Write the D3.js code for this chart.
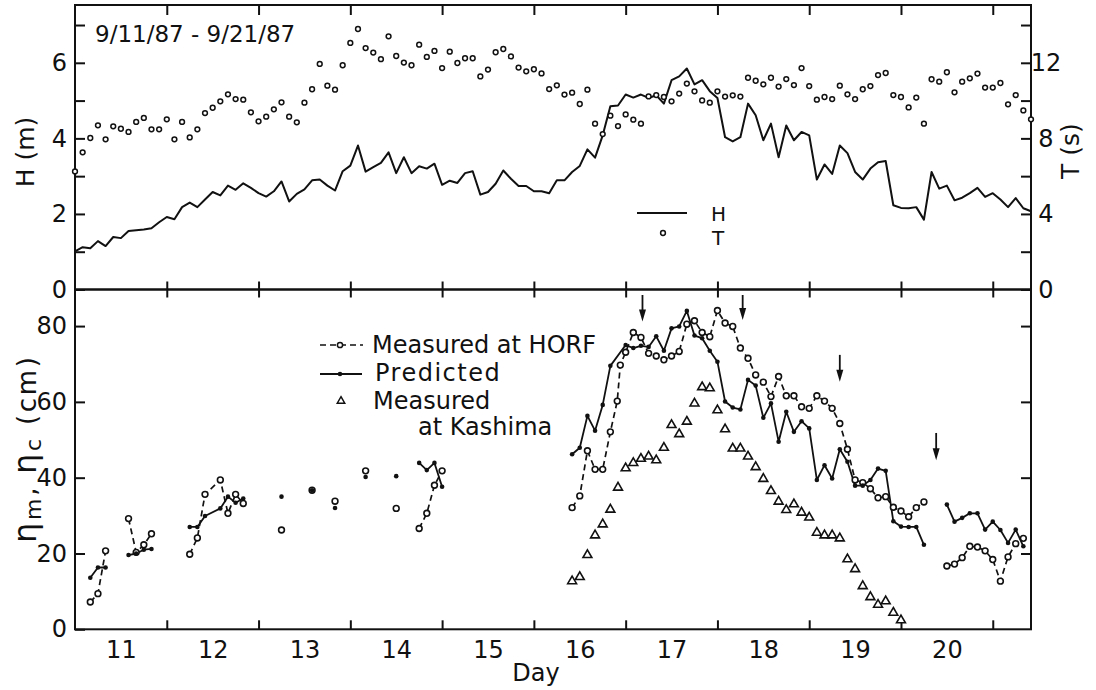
<!DOCTYPE html>
<html>
<head>
<meta charset="utf-8">
<script src="https://cdn.jsdelivr.net/npm/d3@7"></script>
<style>
  html, body { margin: 0; padding: 0; background: #fff; }
  svg { display: block; font-family: "DejaVu Sans", sans-serif; }
</style>
</head>
<body>
<svg id="chart" width="1096" height="690"></svg>
<script>
// ---- Data: storm of 9/11/87 - 9/21/87, hours counted from 0:00 on the 11th ----
const hourStep = 2;

// Significant wave height H (m), every 2 h from hour 0
const waveHeight = [
  1.01,1.12,1.09,1.28,1.15,1.39,1.36,1.55,1.57,1.59,
  1.62,1.78,1.92,1.86,2.18,2.30,2.18,2.38,2.58,2.49,
  2.75,2.64,2.81,2.69,2.55,2.46,2.60,2.86,2.33,2.53,
  2.65,2.89,2.91,2.75,2.62,3.13,3.28,3.81,3.12,3.24,
  3.35,3.63,3.08,3.50,3.08,3.26,3.20,3.33,2.77,2.88,
  2.82,3.08,3.13,2.51,2.58,2.80,3.15,2.93,2.74,2.74,
  2.60,2.60,2.55,2.89,2.89,3.11,3.27,3.71,3.49,4.08,
  4.85,4.87,5.16,5.08,5.16,5.07,5.14,4.92,5.54,5.64,
  5.85,5.43,5.54,5.25,5.07,4.03,3.92,4.03,4.92,4.61,
  3.95,4.39,3.50,4.34,3.95,4.17,4.08,2.91,3.31,3.06,
  3.81,3.61,3.11,2.91,3.20,3.37,3.40,2.23,2.16,2.15,
  2.18,1.85,3.11,2.67,2.75,2.36,2.43,2.55,2.69,2.45,
  2.55,2.38,2.18,2.42,2.15,2.07
];

// Significant wave period T (s), every 2 h from hour 0
const wavePeriod = [
  6.25,7.26,8.02,8.69,7.95,8.64,8.51,8.34,8.87,9.08,
  8.48,8.48,9.01,7.95,8.87,8.05,8.48,9.34,9.62,9.96,
  10.33,10.08,10.05,9.38,8.90,9.15,9.54,9.91,9.15,8.85,
  9.89,10.60,11.94,10.79,10.58,11.87,13.05,13.79,12.78,12.54,
  12.19,13.40,12.36,12.01,11.87,12.96,12.31,12.63,11.72,12.59,
  11.99,12.24,12.24,11.28,11.64,12.56,12.73,12.34,11.75,11.55,
  11.66,11.44,10.61,10.81,10.32,10.42,9.82,10.58,8.78,8.23,
  9.20,8.65,9.27,8.99,8.78,10.22,10.29,10.19,9.96,10.37,
  10.90,10.49,10.01,9.89,10.49,10.21,10.28,10.21,11.21,11.05,
  10.86,11.21,10.74,11.14,10.82,11.72,10.77,10.05,10.19,10.08,
  10.79,10.33,10.08,10.60,10.77,11.35,11.46,10.29,10.19,9.64,
  10.16,8.78,11.13,11.00,11.50,10.44,11.00,11.18,11.43,10.69,
  10.69,10.93,9.80,10.29,9.48,9.01
];

// Set-up eta (cm) measured at HORF: [hour, value]; null breaks the line
const horfMeasured = [
  [4,7.2],[6,9.4],[8,20.7], null,
  [14,29.2],[16,20.3],[18,22.3],[20,25.2], null,
  [30,19.8],[32,24.1],[34,35.6],[38,39.4],[40,30.6],[42,35.6],[44,33.2], null,
  [54,26.2], null, [62,36.7], null, [68,33.8], null, [76,41.8], null, [84,31.9], null,
  [90,26.6],[92,30.6],[94,38.0],[96,41.8], null,
  [130,32.1],[132,35.2],[134,47.1],[136,42.2],[138,42.2],[140,52.1],[141.8,60.2],[142.6,69.7],
  [144,73.1],[146,78.3],[148,77.0],[150,72.8],[152,72.1],[154,71.1],[156,72.1],[158,73.3],
  [160,80.5],[162,81.4],[164,78.3],[166,77.2],[168,84.1],[170,80.8],[172,79.9],[174,74.2],
  [176,71.5],[178,67.1],[180,65.2],[182,61.4],[184,66.7],[186,61.6],[188,61.6],[190,58.7],
  [192,58.3],[194,61.6],[196,60.2],[198,58.3],[200,54.3],[202,47.5],[204,39.4],[206,38.7],
  [208,37.1],[210,34.7],[212,35.0],[214,32.2],[216,31.2],[218,29.7],[220,32.1],[222,33.6], null,
  [228,16.7],[230,17.2],[232,18.9],[234,21.9],[236,21.7],[238,20.7],[240,18.4],[242,12.7],
  [244,19.1],[246,22.6],[248,24.0]
];

// Predicted set-up eta (cm)
const predicted = [
  [4,13.6],[6,16.3],[8,16.3], null,
  [14,19.6],[16,20.0],[18,21.0],[20,21.2], null,
  [30,27.0],[32,27.0],[34,29.9],[38,31.9],[40,35.0],[42,33.4],[44,34.5], null,
  [54,35.0], null, [62,36.7], null, [68,32.0], null, [76,40.2], null, [84,40.4], null,
  [90,43.9],[92,42.0],[94,43.9],[96,37.6], null,
  [130,46.2],[132,47.9],[134,56.3],[136,52.4],[138,59.2],[140,69.5],[144,75.0],[146,74.2],
  [148,74.8],[150,74.5],[152,77.3],[154,73.5],[156,79.4],[158,79.9],[160,84.0],[162,77.5],
  [164,76.8],[166,73.5],[168,70.6],[170,60.1],[172,58.5],[174,58.0],[176,65.8],[178,64.3],
  [180,55.8],[182,59.6],[184,49.5],[186,57.4],[188,52.1],[190,54.9],[192,53.0],[194,39.4],
  [196,43.3],[198,39.8],[200,47.5],[202,44.2],[204,37.9],[206,37.9],[208,39.4],[210,42.4],
  [212,41.8],[214,28.5],[216,27.1],[218,27.0],[220,27.0],[222,22.3], null,
  [228,32.9],[230,28.4],[232,29.4],[234,30.6],[236,30.6],[238,26.3],[240,28.4],[242,26.2],
  [244,22.8],[246,26.3],[248,21.9]
];

// Set-up measured at Kashima (cm)
const kashima = [
  [130,12.7],[132,13.8],[134,19.6],[136,24.8],[138,27.7],[140,31.6],[142,37.4],[144,42.5],
  [146,43.9],[148,45.0],[150,45.6],[152,44.6],[154,47.9],[156,53.9],[158,51.5],[160,54.8],
  [162,59.6],[164,63.9],[166,63.6],[168,57.8],[170,52.8],[172,47.7],[174,47.7],[176,45.6],
  [178,42.8],[180,39.7],[182,36.5],[184,33.7],[186,31.5],[188,33.0],[190,30.8],[192,29.5],
  [194,25.5],[196,24.8],[198,24.8],[200,24.0],[202,18.5],[204,15.9],[206,11.4],[208,8.5],
  [210,6.5],[212,7.4],[214,4.4],[216,2.4]
];

// Event arrows: hour, start and tip level (cm)
const arrowHours = [148.4, 174.6, 200.0, 225.2];
const arrowFrom  = [88.2, 88.2, 72.4, 51.8];
const arrowTo    = [81.2, 81.6, 65.3, 44.6];

// Axis ticks and labels
const dayLabels = ["11","12","13","14","15","16","17","18","19","20"];
const dayMidHours = [12,36,60,84,108,132,156,180,204,228];
const dayBoundHours = [24,48,72,96,120,144,168,192,216,240];
const hTicks = [0,1,2,3,4,5,6,7];
const hLabels = [0,2,4,6];
const tTicks = [0,2,4,6,8,10,12,14];
const tLabels = [0,4,8,12];
const etaTicks = [0,20,40,60,80];

// ---- Layout ----
const svg = d3.select("#chart");
const ink = "#111";
const L = 75, R = 1031, TOP = 5, MID = 289.5, BOT = 629.3;

const x = d3.scaleLinear().domain([0, 250]).range([L, R]);
const yH = d3.scaleLinear().domain([0, 7.53]).range([MID, TOP]);
const yT = d3.scaleLinear().domain([0, 15.06]).range([MID, TOP]);
const yE = d3.scaleLinear().domain([0, 89.65]).range([BOT, MID]);

const fontSize = 24;

function styleAxis(g) {
  g.select(".domain").remove();
  g.selectAll(".tick line").attr("stroke", ink).attr("stroke-width", 2);
  g.selectAll(".tick text").attr("fill", ink).style("font-size", fontSize + "px")
    .style("font-family", "DejaVu Sans, sans-serif");
}

// frames
svg.append("rect").attr("x", L).attr("y", TOP).attr("width", R - L).attr("height", MID - TOP)
  .attr("fill", "none").attr("stroke", ink).attr("stroke-width", 2);
svg.append("rect").attr("x", L).attr("y", MID).attr("width", R - L).attr("height", BOT - MID)
  .attr("fill", "none").attr("stroke", ink).attr("stroke-width", 2);

// x ticks on top edge, divider and bottom edge
svg.append("g").attr("transform", `translate(0,${TOP})`)
  .call(d3.axisTop(x).tickValues(dayBoundHours).tickSize(-10).tickFormat(""))
  .call(styleAxis);
svg.append("g").attr("transform", `translate(0,${MID})`)
  .call(d3.axisTop(x).tickValues(dayBoundHours).tickSize(8).tickFormat(""))
  .call(styleAxis);
svg.append("g").attr("transform", `translate(0,${MID})`)
  .call(d3.axisBottom(x).tickValues(dayBoundHours).tickSize(8).tickFormat(""))
  .call(styleAxis);
svg.append("g").attr("transform", `translate(0,${BOT})`)
  .call(d3.axisBottom(x).tickValues(dayBoundHours).tickSize(-9).tickFormat(""))
  .call(styleAxis);
svg.append("g").attr("transform", `translate(0,${BOT})`)
  .call(d3.axisBottom(x).tickValues(dayMidHours).tickSize(0).tickPadding(12)
    .tickFormat((d, i) => dayLabels[i]))
  .call(styleAxis);

// H axis (left, top panel)
svg.append("g").attr("transform", `translate(${L},0)`)
  .call(d3.axisLeft(yH).tickValues(hTicks).tickSize(-10).tickPadding(8)
    .tickFormat(d => hLabels.includes(d) ? d : ""))
  .call(styleAxis);
// T axis (right, top panel)
const tAxis = svg.append("g").attr("transform", `translate(${R},0)`)
  .call(d3.axisRight(yT).tickValues(tTicks).tickSize(-10)
    .tickFormat(d => tLabels.includes(d) ? d : ""))
  .call(styleAxis);
tAxis.selectAll(".tick text").attr("x", 15).attr("text-anchor", "middle");

// eta axes (bottom panel)
svg.append("g").attr("transform", `translate(${L},0)`)
  .call(d3.axisLeft(yE).tickValues(etaTicks).tickSize(-10).tickPadding(8))
  .call(styleAxis);
svg.append("g").attr("transform", `translate(${R},0)`)
  .call(d3.axisRight(yE).tickValues(etaTicks.filter(v => v > 0)).tickSize(-10).tickFormat(""))
  .call(styleAxis);

// axis titles
svg.append("text").attr("transform", "translate(34,152) rotate(-90)")
  .attr("text-anchor", "middle").attr("fill", ink).style("font-size", "25px").text("H (m)");
svg.append("text").attr("transform", "translate(1079,151) rotate(-90)")
  .attr("text-anchor", "middle").attr("fill", ink).style("font-size", "25px").text("T (s)");
svg.append("text").attr("x", 536).attr("y", 681).attr("text-anchor", "middle")
  .attr("fill", ink).style("font-size", "24px").text("Day");

const etaLabel = svg.append("text").attr("transform", "translate(36,450) rotate(-90)")
  .attr("text-anchor", "middle").attr("fill", ink).style("font-size", "26px")
  .attr("textLength", 186).attr("lengthAdjust", "spacing");
etaLabel.append("tspan").style("font-size", "32px").text("η");
etaLabel.append("tspan").style("font-size", "22px").attr("dy", 5).text("m");
etaLabel.append("tspan").attr("dy", -5).text(", ");
etaLabel.append("tspan").style("font-size", "32px").text("η");
etaLabel.append("tspan").style("font-size", "22px").attr("dy", 5).text("c");
etaLabel.append("tspan").attr("dy", -5).text(" (cm)");

// date range
svg.append("text").attr("x", 95).attr("y", 42).attr("fill", ink)
  .style("font-size", "23px").text("9/11/87 - 9/21/87");

// ---- Top panel: H line and T circles ----
svg.append("path").datum(waveHeight)
  .attr("fill", "none").attr("stroke", ink).attr("stroke-width", 2).attr("stroke-linejoin", "round")
  .attr("d", d3.line().x((d, i) => x(i * hourStep)).y(d => yH(d)));

svg.append("g").selectAll("circle").data(wavePeriod).join("circle")
  .attr("cx", (d, i) => x(i * hourStep)).attr("cy", d => yT(d)).attr("r", 2.4)
  .attr("fill", "#fff").attr("stroke", ink).attr("stroke-width", 1.5);

// top legend
svg.append("line").attr("x1", 637).attr("x2", 687).attr("y1", 213).attr("y2", 213)
  .attr("stroke", ink).attr("stroke-width", 2);
svg.append("circle").attr("cx", 663).attr("cy", 233).attr("r", 2.4)
  .attr("fill", "#fff").attr("stroke", ink).attr("stroke-width", 1.5);
svg.append("text").attr("x", 711).attr("y", 221).attr("fill", ink)
  .style("font-size", "20px").text("H");
svg.append("text").attr("x", 712).attr("y", 245).attr("fill", ink)
  .style("font-size", "20px").text("T");

// ---- Bottom panel ----
const etaLine = d3.line().defined(d => d !== null).x(d => x(d[0])).y(d => yE(d[1]));

svg.append("path").datum(horfMeasured)
  .attr("fill", "none").attr("stroke", ink).attr("stroke-width", 1.7)
  .attr("stroke-dasharray", "6,4").attr("d", etaLine);
svg.append("path").datum(predicted)
  .attr("fill", "none").attr("stroke", ink).attr("stroke-width", 1.8)
  .attr("stroke-linejoin", "round").attr("d", etaLine);

svg.append("g").selectAll("path").data(kashima).join("path")
  .attr("transform", d => `translate(${x(d[0])},${yE(d[1])})`)
  .attr("d", d3.symbol(d3.symbolTriangle, 34)())
  .attr("fill", "#fff").attr("stroke", ink).attr("stroke-width", 1.6);

svg.append("g").selectAll("circle").data(horfMeasured.filter(d => d)).join("circle")
  .attr("cx", d => x(d[0])).attr("cy", d => yE(d[1])).attr("r", 2.9)
  .attr("fill", "#fff").attr("stroke", ink).attr("stroke-width", 1.6);

svg.append("g").selectAll("circle").data(predicted.filter(d => d)).join("circle")
  .attr("cx", d => x(d[0])).attr("cy", d => yE(d[1])).attr("r", 2.3)
  .attr("fill", ink);

// arrows
const arrows = svg.append("g");
arrowHours.forEach((h, i) => {
  const ax = x(h), y0 = yE(arrowFrom[i]), y1 = yE(arrowTo[i]);
  arrows.append("line").attr("x1", ax).attr("x2", ax).attr("y1", y0).attr("y2", y1 - 6)
    .attr("stroke", ink).attr("stroke-width", 1.8);
  arrows.append("path")
    .attr("d", `M${ax - 3.5},${y1 - 12}L${ax},${y1}L${ax + 3.5},${y1 - 12}Z`)
    .attr("fill", ink);
});

// bottom legend
const lg = svg.append("g");
lg.append("line").attr("x1", 320).attr("x2", 363).attr("y1", 345).attr("y2", 345)
  .attr("stroke", ink).attr("stroke-width", 1.6).attr("stroke-dasharray", "6,4");
lg.append("circle").attr("cx", 340).attr("cy", 345).attr("r", 2.6)
  .attr("fill", "#fff").attr("stroke", ink).attr("stroke-width", 1.5);
lg.append("text").attr("x", 372).attr("y", 353).attr("fill", ink)
  .style("font-size", "24px").text("Measured at HORF");

lg.append("line").attr("x1", 320).attr("x2", 362).attr("y1", 374).attr("y2", 374)
  .attr("stroke", ink).attr("stroke-width", 1.8);
lg.append("circle").attr("cx", 340).attr("cy", 374).attr("r", 2.3).attr("fill", ink);
lg.append("text").attr("x", 375).attr("y", 381).attr("fill", ink)
  .style("font-size", "24px").style("letter-spacing", "1.5px").text("Predicted");

lg.append("path").attr("transform", "translate(341,401)")
  .attr("d", d3.symbol(d3.symbolTriangle, 24)())
  .attr("fill", "#fff").attr("stroke", ink).attr("stroke-width", 1.5);
lg.append("text").attr("x", 373).attr("y", 409).attr("fill", ink)
  .style("font-size", "24px").text("Measured");
lg.append("text").attr("x", 418).attr("y", 435).attr("fill", ink)
  .style("font-size", "24px").text("at Kashima");
</script>
</body>
</html>
